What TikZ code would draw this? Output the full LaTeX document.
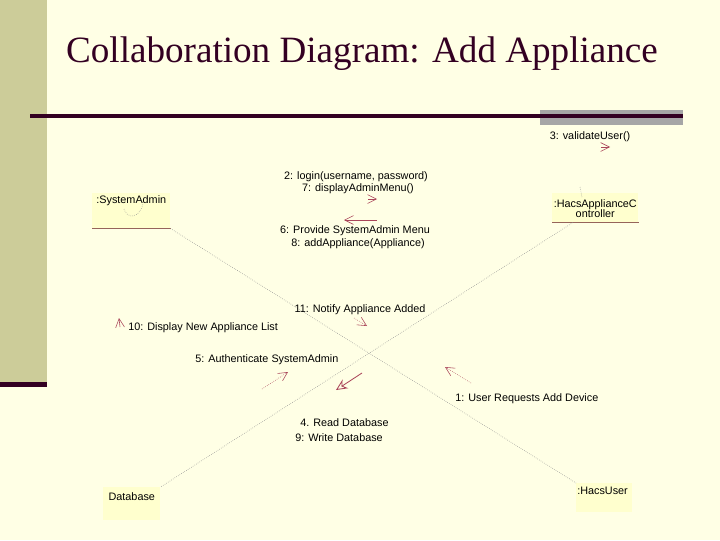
\documentclass[tikz,border=0pt]{standalone}
\usepackage{fontspec}
\setmainfont{Liberation Serif}
\setsansfont{Liberation Sans}
\usetikzlibrary{arrows.meta, positioning, calc}
\definecolor{slidebg}{RGB}{255,255,229}
\definecolor{sidebar}{RGB}{204,204,153}
\definecolor{darkbar}{RGB}{51,0,34}
\definecolor{greybar}{RGB}{166,166,166}
\definecolor{objfill}{RGB}{255,255,206}
\definecolor{linkgrey}{RGB}{140,140,140}
\definecolor{msgred}{RGB}{170,70,90}
\definecolor{ulinecol}{RGB}{150,100,90}
\tikzset{
  obj/.style={fill=objfill, inner sep=0pt, anchor=north west},
  objtxt/.style={font=\sffamily\fontsize{7.7}{9}\selectfont, inner sep=0pt, align=center},
  msgtxt/.style={font=\sffamily\fontsize{7.7}{9}\selectfont, inner sep=0pt, anchor=base},
  link/.style={draw=linkgrey, densely dotted, thin},
  undl/.style={draw=ulinecol, semithick},
  msgarr/.style={draw=msgred, -{Straight Barb[length=2.2mm, width=2.2mm]}, thin},
}
\begin{document}
\begin{tikzpicture}[x=0.025cm, y=-0.025cm]
  % slide background
  \fill[slidebg] (0,0) rectangle (720,540);
  \fill[sidebar] (0,0) rectangle (47,383);
  \fill[darkbar] (0,382) rectangle (47,387);
  \node[font=\fontsize{26.4}{30}\selectfont, text=darkbar, anchor=base, inner sep=0pt] (title) at (362,62) {Collaboration Diagram: Add Appliance};
  \fill[greybar] (540,110) rectangle (683,125);
  \draw[darkbar, line width=2.2pt] (30,116) -- (683,116);

  % objects
  \node[obj, minimum width=1.95cm, minimum height=0.875cm] (sysadmin) at (92,193) {};
  \node[objtxt, below=2pt of sysadmin.north] (sysadminlbl) {:SystemAdmin};
  \draw[undl] (sysadmin.south west) -- (sysadmin.south east);

  \node[obj, minimum width=2.15cm, minimum height=0.725cm] (ctrl) at (552,193) {};
  \node[objtxt, font=\sffamily\fontsize{7.7}{7.2}\selectfont, below=4.5pt of ctrl.north] (ctrllbl) {:HacsApplianceC\\ontroller};
  \draw[undl] (ctrl.south west) -- (ctrl.south east);

  \node[obj, minimum width=1.425cm, minimum height=0.825cm] (database) at (103,487) {};
  \node[objtxt, below=4pt of database.north] (databaselbl) {Database};

  \node[obj, minimum width=1.4cm, minimum height=0.725cm] (hacsuser) at (576,483) {};
  \node[objtxt, anchor=north west] (hacsuserlbl) at ($(hacsuser.north west)+(1,4)$) {:HacsUser};

  % links
  \draw[link] (sysadmin.south east) -- (hacsuser.north west);
  \draw[link] ($(ctrl.south west)!0.24!(ctrl.south east)$) -- (database.north east);
  \draw[link] (124,209) .. controls (127,219) and (139,219) .. (143,204);
  \draw[link] (580,187) -- (582,197);

  % messages
  \node[msgtxt] (m2) at (356,179) {2: login(username, password)};
  \node[msgtxt] (m7) at (358,191) {7: displayAdminMenu()};
  \node[msgtxt] (m6) at (355,233) {6: Provide SystemAdmin Menu};
  \node[msgtxt] (m8) at (358,246) {8: addAppliance(Appliance)};
  \node[msgtxt] (m3) at (590,139) {3: validateUser()};
  \node[msgtxt] (m11) at (360,312) {11: Notify Appliance Added};
  \node[msgtxt, anchor=base west] (m10) at (128,330) {10: Display New Appliance List};
  \node[msgtxt, anchor=base west] (m5) at (195,362) {5: Authenticate SystemAdmin};
  \node[msgtxt, anchor=base west] (m4) at (300,426) {4. Read Database};
  \node[msgtxt, anchor=base west] (m9) at (295,441) {9: Write Database};
  \node[msgtxt, anchor=base west] (m1) at (455,401) {1: User Requests Add Device};

  % message arrows
  \coordinate (a2s) at (368,199);  \coordinate (a2e) at (377,199);
  \coordinate (a3s) at (601,147);  \coordinate (a3e) at (610,147);
  \coordinate (a6s) at (377,220);  \coordinate (a6e) at (344,220);
  \coordinate (a11s) at (354,318); \coordinate (a11e) at (367,326);
  \coordinate (a10s) at (120,327); \coordinate (a10e) at (119,318);
  \coordinate (a5s) at (262,389);  \coordinate (a5e) at (288,372);
  \coordinate (a4s) at (362,373);  \coordinate (a4e) at (336,390);
  \coordinate (a1s) at (471,383);  \coordinate (a1e) at (445,367);
  \draw[msgarr] (a2s) -- (a2e);
  \draw[msgarr] (a3s) -- (a3e);
  \draw[msgarr] (a6s) -- (a6e);
  \draw[msgarr, densely dotted] (a11s) -- (a11e);
  \draw[msgarr] (a10s) -- (a10e);
  \draw[msgarr, densely dotted] (a5s) -- (a5e);
  \draw[msgarr, semithick, -{Stealth[length=2.8mm, width=2.6mm, open]}] (a4s) -- (a4e);
  \draw[msgarr, densely dotted] (a1s) -- (a1e);
\end{tikzpicture}
\end{document}
